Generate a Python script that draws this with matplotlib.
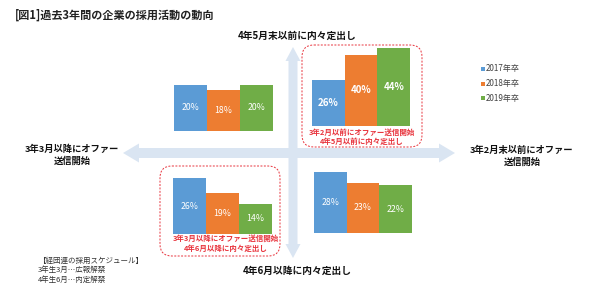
import matplotlib
matplotlib.use("Agg")
import matplotlib.pyplot as plt
from matplotlib.patches import FancyBboxPatch, FancyArrow, Rectangle

plt.rcParams['font.family'] = ['Noto Sans CJK JP', 'DejaVu Sans']

# ---- data ----
years = ["2017年卒", "2018年卒", "2019年卒"]
colors = ["#5b9bd5", "#ed7d31", "#70ad47"]
top_left = [20, 18, 20]      # 3年3月以降オファー / 4年5月末以前内々定
top_right = [26, 40, 44]     # 3年2月以前オファー / 4年5月以前内々定
bottom_left = [26, 19, 14]   # 3年3月以降オファー / 4年6月以降内々定
bottom_right = [28, 23, 22]  # 3年2月以前オファー / 4年6月以降内々定

title = "[図1]過去3年間の企業の採用活動の動向"
label_top = "4年5月末以前に内々定出し"
label_bottom = "4年6月以降に内々定出し"
label_left = "3年3月以降にオファー\n送信開始"
label_right = "3年2月末以前にオファー\n送信開始"
box_tr_text = "3年2月以前にオファー送信開始\n4年5月以前に内々定出し"
box_bl_text = "3年3月以降にオファー送信開始\n4年6月以降に内々定出し"
note_text = "【経団連の採用スケジュール】\n3年生3月…広報解禁\n4年生6月…内定解禁"

W, H = 600, 293
fig = plt.figure(figsize=(W / 100, H / 100), dpi=100)
ov = fig.add_axes([0, 0, 1, 1])
ov.set_xlim(0, W)
ov.set_ylim(H, 0)
ov.axis("off")

arrow_c = "#dae5f2"
cx, cy = 293, 153
# horizontal arrows
ov.add_patch(FancyArrow(cx, cy, 455 - cx, 0, width=10, head_width=19, head_length=16,
                        length_includes_head=True, color=arrow_c, lw=0, zorder=1))
ov.add_patch(FancyArrow(cx, cy, 123 - cx, 0, width=10, head_width=19, head_length=16,
                        length_includes_head=True, color=arrow_c, lw=0, zorder=1))
# vertical arrows
ov.add_patch(FancyArrow(cx, cy, 0, 47 - cy, width=9, head_width=15, head_length=14,
                        length_includes_head=True, color=arrow_c, lw=0, zorder=1))
ov.add_patch(FancyArrow(cx, cy, 0, 258 - cy, width=9, head_width=15, head_length=14,
                        length_includes_head=True, color=arrow_c, lw=0, zorder=1))

# texts
ov.text(15, 15, title, fontsize=8, fontweight="bold", color="#222222", va="center", ha="left")
ov.text(297, 36, label_top, fontsize=7, fontweight="bold", color="#111111", ha="center", va="center")
ov.text(297, 271, label_bottom, fontsize=7, fontweight="bold", color="#111111", ha="center", va="center")
ov.text(72, 155, label_left, fontsize=6.7, fontweight="bold", color="#111111", ha="center", va="center",
        linespacing=1.3)
ov.text(522, 156, label_right, fontsize=6.7, fontweight="bold", color="#111111", ha="center", va="center",
        linespacing=1.3)

# dashed boxes
red = "#e8333c"
ov.add_patch(FancyBboxPatch((302, 45), 120, 102, boxstyle="round,pad=0,rounding_size=12",
                            fill=False, ec=red, ls=(0, (2, 1.5)), lw=0.7, zorder=2))
ov.add_patch(FancyBboxPatch((160, 166), 120, 90, boxstyle="round,pad=0,rounding_size=12",
                            fill=False, ec=red, ls=(0, (2, 1.5)), lw=0.7, zorder=2))
ov.text(362, 137, box_tr_text, fontsize=5.4, fontweight="bold", color=red, ha="center", va="center",
        linespacing=1.2)
ov.text(226, 243, box_bl_text, fontsize=5.4, fontweight="bold", color=red, ha="center", va="center",
        linespacing=1.3)

# note
ov.text(38, 270, note_text, fontsize=5.4, color="#333333", ha="left", va="center", linespacing=1.25)

# legend
for i, (y, c) in enumerate(zip(years, colors)):
    yy = 69 + i * 14.5
    ov.add_patch(Rectangle((480.5, yy - 2), 4, 4, color=c, lw=0))
    ov.text(486, yy, y, fontsize=5.8, color="#404040", ha="left", va="center")

# bar panels
def panel(vals, left, right, bottom, scale, bold, fs):
    ymax = 50
    hpx = scale * ymax
    ax = fig.add_axes([left / W, (H - bottom) / H, (right - left) / W, hpx / H])
    xs = range(len(vals))
    ax.bar(xs, vals, width=1.0, color=colors, lw=0)
    ax.set_xlim(-0.5, len(vals) - 0.5)
    ax.set_ylim(0, ymax)
    ax.axis("off")
    ax.patch.set_alpha(0)
    for x, v in zip(xs, vals):
        ax.text(x, v / 2, f"{v}%", color="white", ha="center", va="center",
                fontsize=fs, fontweight="bold" if bold else "normal")
    return ax

panel(top_left, 174, 273, 131, 2.3, False, 6.3)
panel(top_right, 312, 410, 126, 1.78, True, 7)
panel(bottom_left, 173, 272, 234, 2.15, False, 6.3)
panel(bottom_right, 314, 412, 233, 2.18, False, 6.3)

fig.savefig("out.png", dpi=100)
